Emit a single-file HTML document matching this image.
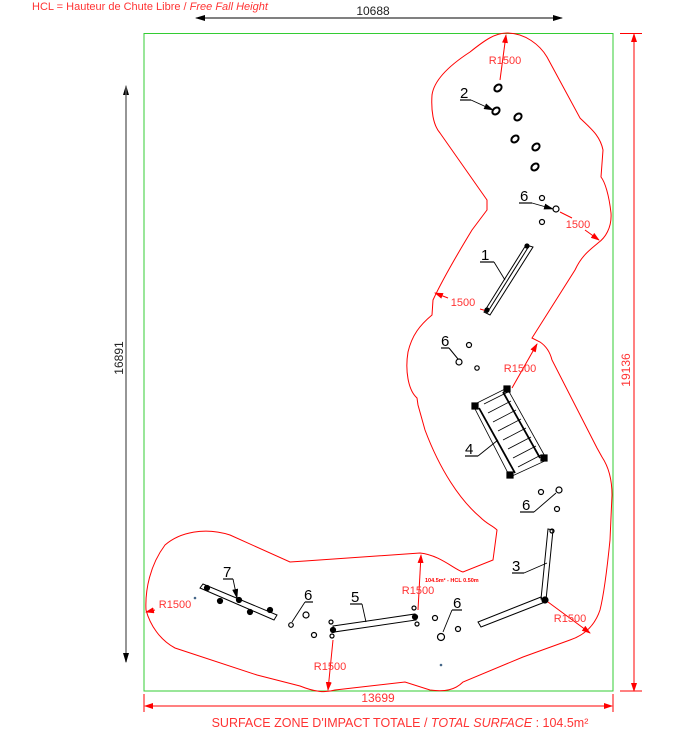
<!DOCTYPE html>
<html><head><meta charset="utf-8"><style>
html,body{margin:0;padding:0;background:#fff;}
svg{display:block;}
text{font-family:"Liberation Sans",sans-serif;}
</style></head><body>
<svg width="678" height="733" viewBox="0 0 678 733" xmlns="http://www.w3.org/2000/svg">
<defs>
<marker id="ab" markerWidth="10" markerHeight="6" refX="9" refY="3" orient="auto" markerUnits="userSpaceOnUse"><path d="M0,0 L10,3 L0,6 Z" fill="#000"/></marker>
<marker id="ar" markerWidth="9" markerHeight="6" refX="8" refY="3" orient="auto" markerUnits="userSpaceOnUse"><path d="M0,0 L9,3 L0,6 Z" fill="#f00"/></marker>
</defs>
<text x="32" y="10" font-size="11" fill="#f33">HCL = Hauteur de Chute Libre / <tspan font-style="italic">Free Fall Height</tspan></text>
<!-- top dim -->
<line x1="196" y1="18" x2="562" y2="18" stroke="#000" stroke-width="1" marker-end="url(#ab)"/>
<line x1="562" y1="18" x2="196" y2="18" stroke="#000" stroke-width="1" marker-end="url(#ab)"/>
<text x="373" y="15" font-size="12" text-anchor="middle" fill="#222">10688</text>
<!-- green rect -->
<rect x="144" y="33.5" width="469" height="657.5" fill="none" stroke="#3c3" stroke-width="1"/>
<!-- left dim -->
<line x1="126" y1="662" x2="126" y2="86" stroke="#666" stroke-width="1.2" marker-end="url(#ab)"/>
<line x1="126" y1="86" x2="126" y2="662" stroke="#666" stroke-width="1.2" marker-end="url(#ab)"/>
<text x="0" y="0" font-size="12" text-anchor="middle" fill="#222" transform="translate(123,358) rotate(-90)">16891</text>
<!-- right dim -->
<line x1="620" y1="33.5" x2="642" y2="33.5" stroke="#f00"/>
<line x1="620" y1="691" x2="642" y2="691" stroke="#f00"/>
<line x1="634" y1="45" x2="634" y2="34" stroke="#f00" marker-end="url(#ar)"/>
<line x1="634" y1="45" x2="634" y2="680" stroke="#f00"/>
<line x1="634" y1="680" x2="634" y2="691" stroke="#f00" marker-end="url(#ar)"/>
<text x="0" y="0" font-size="12" text-anchor="middle" fill="#f33" transform="translate(630,370) rotate(-90)">19136</text>
<!-- bottom dim -->
<line x1="144" y1="694" x2="144" y2="712" stroke="#f00"/>
<line x1="613" y1="694" x2="613" y2="712" stroke="#f00"/>
<line x1="155" y1="706" x2="145" y2="706" stroke="#f00" marker-end="url(#ar)"/>
<line x1="155" y1="706" x2="602" y2="706" stroke="#f00"/>
<line x1="602" y1="706" x2="612" y2="706" stroke="#f00" marker-end="url(#ar)"/>
<text x="378" y="702" font-size="12" text-anchor="middle" fill="#f33">13699</text>
<text x="400" y="727" font-size="12.5" text-anchor="middle" fill="#f33">SURFACE ZONE D'IMPACT TOTALE / <tspan font-style="italic">TOTAL SURFACE</tspan> : 104.5m²</text>
<!-- red outline -->
<path d="M507,33 C525,33 540,45 547,57 L580,118 C590,128 600,135 603,150 L601,177 C605,182 609,195 611,213 C612,228 605,238 598,243 C590,250 582,255 575,270 L532,338 L540,342 C546,346 550,352 552,360 L597,448 L602,457 C608,466 612,478 612,495 L610,540 C608,560 605,590 600,610 C595,625 585,635 570,640 L523,657 L463,682 C455,690 445,692 430,690 L405,682 L335,690 C325,693 315,692 300,686 L257,675 L175,648 C160,640 150,625 146,610 C145,590 150,565 165,545 C180,532 205,527 230,535 L290,562 L305,561 L420,553 C440,555 455,570 463,572 L493,560 L497,530 C492,525 488,525 480,517 C460,500 440,470 425,430 L418,405 L417,398 C408,390 405,370 408,352 C412,335 420,325 432,315 L433,300 C440,285 455,258 472,230 L487,210 L487,200 L440,133 C433,125 431,110 432,95 C434,80 450,65 470,52 C485,40 495,33 507,33 Z" fill="none" stroke="#f00" stroke-width="1"/>
<!-- R1500 annotations -->
<line x1="500" y1="80" x2="506" y2="35" stroke="#f00" marker-end="url(#ar)"/>
<text x="505" y="64" font-size="11" text-anchor="middle" fill="#f33">R1500</text>
<line x1="585" y1="230" x2="599" y2="240" stroke="#f00" marker-end="url(#ar)"/>
<line x1="560" y1="212" x2="572" y2="218" stroke="#f00"/>
<text x="578" y="228" font-size="11" text-anchor="middle" fill="#f33">1500</text>
<line x1="448" y1="298" x2="435" y2="293" stroke="#f00" marker-end="url(#ar)"/>
<text x="463" y="306" font-size="11" text-anchor="middle" fill="#f33">1500</text>
<line x1="480" y1="309" x2="487" y2="311" stroke="#f00"/>
<line x1="512" y1="388" x2="537" y2="344" stroke="#f00" marker-end="url(#ar)"/>
<text x="520" y="372" font-size="11" text-anchor="middle" fill="#f33">R1500</text>
<line x1="548" y1="602" x2="590" y2="633" stroke="#f00" marker-end="url(#ar)"/>
<text x="570" y="622" font-size="11" text-anchor="middle" fill="#f33">R1500</text>
<line x1="418" y1="610" x2="421" y2="555" stroke="#f00" marker-end="url(#ar)"/>
<text x="418" y="594" font-size="11" text-anchor="middle" fill="#f33">R1500</text>
<text x="425" y="582" font-size="5.5" font-weight="bold" fill="#f00">104.5m² - HCL 0.50m</text>
<line x1="333" y1="640" x2="328" y2="690" stroke="#f00" marker-end="url(#ar)"/>
<text x="330" y="670" font-size="11" text-anchor="middle" fill="#f33">R1500</text>
<line x1="155" y1="610" x2="146" y2="612" stroke="#f00" marker-end="url(#ar)"/>
<text x="175" y="608" font-size="11" text-anchor="middle" fill="#f33">R1500</text>
<circle cx="195" cy="598" r="1.3" fill="#468"/>
<circle cx="441" cy="665" r="1.3" fill="#468"/>
<!-- equipment -->
<g stroke="#000" fill="none" stroke-width="1.2">
<!-- item 2 -->
<ellipse cx="498" cy="88" rx="4" ry="3" transform="rotate(-40 498 88)" stroke-width="2"/>
<ellipse cx="496" cy="111" rx="4" ry="3" transform="rotate(-40 496 111)" stroke-width="2"/>
<ellipse cx="518" cy="117" rx="4" ry="3" transform="rotate(-40 518 117)" stroke-width="2"/>
<ellipse cx="515" cy="139" rx="4" ry="3" transform="rotate(-40 515 139)" stroke-width="2"/>
<ellipse cx="536" cy="147" rx="4" ry="3" transform="rotate(-40 536 147)" stroke-width="2"/>
<ellipse cx="535" cy="167" rx="4" ry="3" transform="rotate(-40 535 167)" stroke-width="2"/>
<line x1="460" y1="100" x2="471" y2="100"/><line x1="471" y1="100" x2="493" y2="110" stroke-width="0.9" marker-end="url(#ab)"/>
<!-- top 6 -->
<circle cx="542" cy="198" r="2.5"/><circle cx="556" cy="209" r="3"/><circle cx="542" cy="222" r="2.5"/>
<line x1="519" y1="203" x2="532" y2="203"/><line x1="532" y1="203" x2="553" y2="209" stroke-width="0.9" marker-end="url(#ab)"/>
<!-- item 1 -->
<path d="M526,245 L533,247 L490,315 L484,312 Z" stroke-width="1"/>
<line x1="529" y1="246" x2="487" y2="313" stroke-width="1"/>
<circle cx="527" cy="246" r="2" fill="#000"/><circle cx="487" cy="310" r="2" fill="#000"/>
<line x1="480" y1="262" x2="494" y2="262"/><line x1="494" y1="262" x2="505" y2="280" stroke-width="0.9"/>
<!-- mid 6 -->
<circle cx="469" cy="345" r="2.5"/><circle cx="459" cy="362" r="3"/><circle cx="477" cy="368" r="2.2"/>
<line x1="441" y1="348" x2="449" y2="348"/><line x1="449" y1="348" x2="458" y2="359" stroke-width="1"/>
<!-- item 4 ladder -->
<path d="M473,405 L507,388 L547,460 L510,477 Z" stroke-width="0.8"/>
<line x1="479" y1="408" x2="515" y2="473" stroke-width="1.8"/>
<line x1="503" y1="392" x2="540" y2="458" stroke-width="1.8"/>
<line x1="484" y1="404" x2="508" y2="392" stroke-width="0.8"/>
<line x1="488" y1="413" x2="511" y2="401" stroke-width="0.8"/>
<line x1="493" y1="422" x2="516" y2="410" stroke-width="0.8"/>
<line x1="498" y1="431" x2="521" y2="419" stroke-width="0.8"/>
<line x1="503" y1="440" x2="526" y2="428" stroke-width="0.8"/>
<line x1="508" y1="449" x2="531" y2="437" stroke-width="0.8"/>
<line x1="513" y1="458" x2="536" y2="446" stroke-width="0.8"/>
<line x1="518" y1="467" x2="541" y2="455" stroke-width="0.8"/>
<rect x="472" y="403" width="6" height="6" fill="#000"/><rect x="504" y="386" width="6" height="6" fill="#000"/>
<rect x="541" y="455" width="6" height="6" fill="#000"/><rect x="507" y="472" width="6" height="6" fill="#000"/>
<line x1="465" y1="456" x2="478" y2="456"/><line x1="478" y1="456" x2="498" y2="440" stroke-width="0.9"/>
<!-- lower 6 -->
<circle cx="541" cy="492" r="2.5"/><circle cx="559" cy="490" r="3"/><circle cx="557" cy="509" r="2.5"/>
<line x1="520" y1="512" x2="534" y2="512"/><line x1="534" y1="512" x2="556" y2="493" stroke-width="0.9"/>
<!-- item 3 -->
<path d="M548,529 L553,530 L546,600 L541,599 Z" stroke-width="1"/>
<path d="M541,597 L545,602 L481,627 L478,622 Z" stroke-width="1"/>
<circle cx="545" cy="600" r="3" fill="#000"/><circle cx="552" cy="531" r="2"/>
<line x1="512" y1="573" x2="524" y2="573"/><line x1="524" y1="573" x2="547" y2="563" stroke-width="0.9"/>
<!-- item 7 -->
<path d="M200,588 L203,584 L277,615 L274,620 Z" stroke-width="1"/>
<circle cx="207" cy="588" r="2.5" fill="#000"/><circle cx="220" cy="601" r="2.5" fill="#000"/>
<circle cx="239" cy="600" r="2.5" fill="#000"/><circle cx="250" cy="612" r="2.5" fill="#000"/><circle cx="270" cy="610" r="2.5" fill="#000"/>
<line x1="223" y1="579" x2="233" y2="579"/><line x1="233" y1="579" x2="237" y2="598" stroke-width="0.9" marker-end="url(#ab)"/>
<!-- 6 near 7 -->
<circle cx="291" cy="625" r="2.3"/><circle cx="306" cy="615" r="3"/><circle cx="314" cy="635" r="2.5"/>
<line x1="305" y1="602" x2="313" y2="602"/><line x1="305" y1="602" x2="292" y2="622" stroke-width="0.9"/>
<!-- item 5 -->
<path d="M333,626 L415,614 L416,620 L334,632 Z" stroke-width="1"/>
<circle cx="333" cy="630" r="2.5" fill="#000"/><circle cx="415" cy="617" r="2.5" fill="#000"/>
<circle cx="331" cy="622" r="2"/><circle cx="332" cy="636" r="2"/><circle cx="414" cy="608" r="2"/><circle cx="417" cy="624" r="2"/>
<line x1="350" y1="604" x2="362" y2="604"/><line x1="362" y1="604" x2="366" y2="622" stroke-width="0.9"/>
<!-- 6 near 5 -->
<circle cx="435" cy="618" r="2.5"/><circle cx="441" cy="637" r="3.5"/><circle cx="458" cy="629" r="2.5"/>
<line x1="452" y1="610" x2="462" y2="610"/><line x1="452" y1="610" x2="443" y2="632" stroke-width="0.9"/>
</g>
<g font-size="15" fill="#000">
<text x="460" y="98">2</text><text x="520" y="201">6</text><text x="481" y="260">1</text>
<text x="441" y="346">6</text><text x="465" y="454">4</text><text x="522" y="510">6</text>
<text x="512" y="571">3</text><text x="223" y="577">7</text><text x="304" y="600">6</text>
<text x="351" y="602">5</text><text x="453" y="608">6</text>
</g>
</svg>
</body></html>
